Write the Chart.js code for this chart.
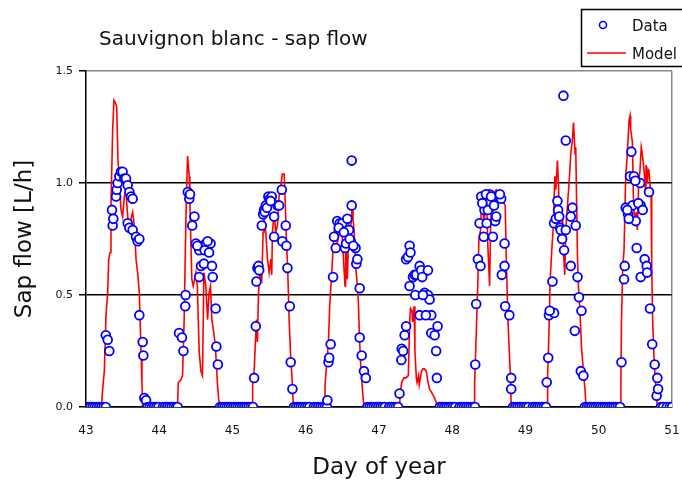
<!DOCTYPE html>
<html>
<head>
<meta charset="utf-8">
<title>Sauvignon blanc - sap flow</title>
<script src="https://cdn.jsdelivr.net/npm/chart.js@4/dist/chart.umd.min.js"></script>
<style>
  body { margin: 0; background: #fff; }
</style>
</head>
<body>
<canvas id="myChart" width="682" height="488"></canvas>
<script>
// values (day of year, sap flow in L/h)
const chartTitle = 'Sauvignon blanc - sap flow';
const xTicks = [43, 44, 45, 46, 47, 48, 49, 50, 51];
const yTicks = [0, 0.5, 1.0, 1.5];

const modelDay = [
  43.0, 43.215, 43.22, 43.25, 43.273, 43.296, 43.31, 43.328, 43.341, 43.364, 43.382, 43.40, 43.419, 43.437, 43.455, 43.478, 43.50, 43.523, 43.546, 43.569, 43.592, 43.637, 43.66, 43.683, 43.705, 43.728, 43.751, 43.764, 43.774,
  44.25, 44.26, 44.295, 44.318, 44.34, 44.364, 44.386, 44.41, 44.418, 44.445, 44.464, 44.50, 44.52, 44.545, 44.568, 44.59, 44.61, 44.636, 44.66, 44.68, 44.70, 44.718, 44.75, 44.77, 44.795, 44.82,
  45.27, 45.275, 45.295, 45.327, 45.34, 45.355, 45.373, 45.40, 45.418, 45.43, 45.455, 45.477, 45.50, 45.523, 45.536, 45.545, 45.568, 45.59, 45.614, 45.636, 45.66, 45.68, 45.705, 45.718, 45.736, 45.755, 45.773, 45.795, 45.818, 45.83,
  46.26, 46.264, 46.28, 46.31, 46.327, 46.355, 46.386, 46.41, 46.43, 46.464, 46.49, 46.51, 46.536, 46.545, 46.568, 46.59, 46.61, 46.636, 46.645, 46.66, 46.68, 46.705, 46.718, 46.736, 46.75, 46.773, 46.795,
  47.28, 47.285, 47.31, 47.34, 47.37, 47.40, 47.42, 47.43, 47.45, 47.46, 47.48, 47.49, 47.51, 47.52, 47.54, 47.55, 47.58, 47.60, 47.62, 47.645, 47.67, 47.69, 47.71, 47.76, 47.80,
  48.30, 48.305, 48.327, 48.35, 48.364, 48.386, 48.405, 48.43, 48.45, 48.468, 48.486, 48.51, 48.523, 48.54, 48.555, 48.577, 48.60, 48.623, 48.645, 48.677, 48.705, 48.723, 48.736, 48.76, 48.78, 48.795, 48.805,
  49.30, 49.302, 49.32, 49.336, 49.355, 49.38, 49.40, 49.414, 49.436, 49.45, 49.464, 49.48, 49.505, 49.518, 49.536, 49.55, 49.573, 49.595, 49.618, 49.64, 49.655, 49.664, 49.677, 49.686, 49.70, 49.71, 49.723, 49.745, 49.764, 49.79, 49.814, 49.827,
  50.30, 50.302, 50.31, 50.327, 50.345, 50.368, 50.39, 50.414, 50.427, 50.436, 50.46, 50.473, 50.49, 50.51, 50.527, 50.545, 50.564, 50.58, 50.595, 50.618, 50.636, 50.645, 50.664, 50.673, 50.686, 50.70, 50.714, 50.723, 50.736, 50.755, 50.777, 50.80,
  51.0
];
const modelFlow = [
  0, 0, 0.05, 0.16, 0.41, 0.51, 0.66, 0.69, 0.90, 1.24, 1.37, 1.36, 1.34, 1.10, 1.02, 0.88, 0.85, 0.94, 0.96, 0.85, 0.81, 0.87, 0.81, 0.66, 0.60, 0.51, 0.25, 0.10, 0,
  0, 0.11, 0.12, 0.14, 0.39, 0.84, 1.12, 1.03, 0.91, 0.57, 0.54, 0.60, 0.54, 0.25, 0.16, 0.14, 0.60, 0.54, 0.39, 0.51, 0.54, 0.39, 0.32, 0.25, 0.10, 0,
  0, 0.10, 0.16, 0.39, 0.29, 0.51, 0.60, 0.57, 0.78, 0.84, 0.78, 0.66, 0.60, 0.66, 0.59, 0.78, 0.87, 0.78, 0.81, 0.94, 0.99, 1.04, 1.04, 0.93, 0.75, 0.60, 0.39, 0.22, 0.10, 0,
  0, 0.10, 0.17, 0.29, 0.45, 0.60, 0.78, 0.82, 0.73, 0.79, 0.81, 0.69, 0.54, 0.76, 0.57, 0.81, 0.78, 0.91, 0.84, 0.79, 0.63, 0.54, 0.47, 0.29, 0.19, 0.08, 0,
  0, 0.05, 0.11, 0.13, 0.13, 0.14, 0.39, 0.44, 0.43, 0.38, 0.45, 0.25, 0.13, 0.11, 0.14, 0.10, 0.16, 0.17, 0.17, 0.16, 0.11, 0.08, 0.07, 0.04, 0,
  0, 0.10, 0.32, 0.56, 0.75, 0.79, 0.96, 0.82, 0.87, 0.94, 0.72, 0.54, 0.79, 0.94, 0.87, 0.96, 0.97, 0.96, 0.94, 0.96, 0.91, 0.90, 0.69, 0.39, 0.24, 0.13, 0,
  0, 0.14, 0.33, 0.56, 0.68, 0.81, 1.03, 0.97, 1.10, 1.00, 0.82, 0.73, 0.85, 0.69, 0.59, 0.79, 0.90, 1.00, 1.13, 1.19, 1.27, 1.22, 1.13, 1.16, 0.87, 0.66, 0.54, 0.42, 0.27, 0.16, 0.07, 0,
  0, 0.10, 0.38, 0.62, 0.70, 1.03, 1.13, 1.28, 1.30, 1.24, 1.18, 0.94, 0.81, 0.87, 0.79, 0.99, 1.06, 1.16, 1.13, 1.06, 0.97, 1.08, 1.00, 1.06, 1.05, 0.99, 0.96, 0.63, 0.39, 0.21, 0.10, 0,
  0
];

const dataDay = [
  43.00, 43.03, 43.06, 43.09, 43.12, 43.15, 43.18, 43.21, 43.24, 43.27,
  43.27, 43.296, 43.318, 43.364, 43.373, 43.355, 43.41, 43.419, 43.432, 43.455, 43.478, 43.50, 43.523, 43.546, 43.569, 43.592, 43.614, 43.637, 43.569, 43.592, 43.637, 43.683, 43.705, 43.728, 43.728, 43.774, 43.783, 43.796, 43.82,
  43.84, 43.87, 43.90, 43.93, 43.96, 43.99, 44.05, 44.08, 44.11, 44.14, 44.17, 44.20, 44.23, 44.25,
  44.27, 44.31, 44.33, 44.36, 44.355, 44.39, 44.41, 44.42, 44.48, 44.45, 44.50, 44.545, 44.59, 44.64, 44.70, 44.57, 44.61, 44.72, 44.545, 44.73, 44.77, 44.78, 44.80, 44.52, 44.62, 44.66, 44.68,
  44.83, 44.86, 44.89, 44.92, 44.95, 44.98, 45.01, 45.04, 45.07, 45.10, 45.13, 45.16, 45.19, 45.22, 45.25, 45.28,
  45.295, 45.318, 45.327, 45.34, 45.355, 45.364, 45.40, 45.418, 45.43, 45.455, 45.49, 45.51, 45.536, 45.568, 45.568, 45.614, 45.636, 45.673, 45.68, 45.727, 45.736, 45.75, 45.782, 45.795, 45.818, 45.44, 45.47, 45.52,
  45.84, 45.87, 45.90, 45.93, 45.96, 45.99, 46.02, 46.05, 46.11, 46.14, 46.17, 46.20, 46.23, 46.26, 46.29,
  46.295, 46.31, 46.32, 46.34, 46.373, 46.386, 46.41, 46.43, 46.464, 46.50, 46.536, 46.568, 46.59, 46.614, 46.627, 46.627, 46.68, 46.69, 46.705, 46.736, 46.736, 46.764, 46.795, 46.82, 46.45, 46.52, 46.55, 46.60, 46.65,
  46.84, 46.87, 46.90, 46.93, 46.96, 46.99, 47.02, 47.05, 47.08, 47.14, 47.17, 47.20, 47.23, 47.26,
  47.28, 47.305, 47.31, 47.33, 47.35, 47.37, 47.37, 47.395, 47.418, 47.418, 47.464, 47.486, 47.51, 47.555, 47.577, 47.668, 47.495, 47.623, 47.668, 47.69, 47.555, 47.714, 47.714, 47.76, 47.80, 47.78, 47.79, 47.43, 47.60, 47.64, 47.59,
  47.83, 47.86, 47.89, 47.92, 47.95, 47.98, 48.01, 48.04, 48.10, 48.13, 48.16, 48.19, 48.22, 48.25, 48.28, 48.31,
  48.314, 48.327, 48.35, 48.386, 48.373, 48.395, 48.44, 48.486, 48.51, 48.586, 48.60, 48.623, 48.668, 48.43, 48.555, 48.714, 48.714, 48.677, 48.723, 48.78, 48.805, 48.805, 48.41, 48.46, 48.53, 48.57, 48.65, 48.47,
  48.83, 48.86, 48.89, 48.92, 48.95, 48.98, 49.01, 49.04, 49.10, 49.13, 49.16, 49.19, 49.22, 49.25, 49.28,
  49.29, 49.31, 49.32, 49.39, 49.368, 49.39, 49.414, 49.436, 49.445, 49.473, 49.48, 49.55, 49.527, 49.618, 49.618, 49.64, 49.686, 49.71, 49.73, 49.764, 49.673, 49.755, 49.79, 49.518, 49.55, 49.33, 49.46, 49.50,
  49.81, 49.84, 49.87, 49.90, 49.93, 49.96, 49.99, 50.02, 50.05, 50.08, 50.11, 50.14, 50.17, 50.20, 50.23, 50.26, 50.29,
  50.31, 50.345, 50.355, 50.368, 50.40, 50.427, 50.445, 50.48, 50.46, 50.505, 50.518, 50.564, 50.573, 50.573, 50.627, 50.655, 50.686, 50.70, 50.73, 50.764, 50.79, 50.80, 50.81, 50.39, 50.41, 50.50, 50.54, 50.60, 50.66,
  50.85, 50.88, 50.93, 50.97, 51.00
];
const dataFlow = [
  0, 0, 0, 0, 0, 0, 0, 0, 0, 0,
  0.32, 0.30, 0.25, 0.81, 0.84, 0.88, 0.94, 0.97, 1.00, 1.03, 1.05, 1.05, 1.02, 1.02, 0.99, 0.96, 0.94, 0.93, 0.82, 0.80, 0.79, 0.76, 0.74, 0.75, 0.41, 0.29, 0.23, 0.04, 0.03,
  0, 0, 0, 0, 0, 0, 0, 0, 0, 0, 0, 0, 0, 0,
  0.33, 0.31, 0.25, 0.50, 0.45, 0.96, 0.93, 0.95, 0.85, 0.81, 0.73, 0.70, 0.72, 0.73, 0.73, 0.63, 0.64, 0.63, 0.58, 0.58, 0.44, 0.27, 0.19, 0.72, 0.70, 0.74, 0.69,
  0, 0, 0, 0, 0, 0, 0, 0, 0, 0, 0, 0, 0, 0, 0, 0,
  0.13, 0.36, 0.56, 0.62, 0.63, 0.61, 0.81, 0.86, 0.88, 0.90, 0.94, 0.93, 0.94, 0.85, 0.76, 0.90, 0.90, 0.97, 0.74, 0.81, 0.72, 0.62, 0.45, 0.20, 0.08, 0.87, 0.89, 0.92,
  0, 0, 0, 0, 0, 0, 0, 0, 0, 0, 0, 0, 0, 0, 0,
  0.03, 0.20, 0.22, 0.28, 0.58, 0.76, 0.71, 0.83, 0.82, 0.82, 0.71, 0.84, 0.79, 0.74, 0.90, 1.10, 0.71, 0.64, 0.66, 0.53, 0.31, 0.23, 0.16, 0.13, 0.80, 0.78, 0.73, 0.75, 0.72,
  0, 0, 0, 0, 0, 0, 0, 0, 0, 0, 0, 0, 0, 0,
  0.06, 0.21, 0.26, 0.25, 0.32, 0.36, 0.66, 0.67, 0.72, 0.54, 0.58, 0.59, 0.59, 0.63, 0.61, 0.61, 0.50, 0.51, 0.50, 0.48, 0.41, 0.41, 0.33, 0.32, 0.36, 0.25, 0.13, 0.69, 0.50, 0.41, 0.58,
  0, 0, 0, 0, 0, 0, 0, 0, 0, 0, 0, 0, 0, 0, 0, 0,
  0.19, 0.46, 0.66, 0.63, 0.82, 0.94, 0.88, 0.88, 0.95, 0.83, 0.85, 0.94, 0.93, 0.76, 0.76, 0.73, 0.63, 0.59, 0.45, 0.41, 0.13, 0.08, 0.91, 0.95, 0.94, 0.90, 0.95, 0.82,
  0, 0, 0, 0, 0, 0, 0, 0, 0, 0, 0, 0, 0, 0, 0,
  0.11, 0.22, 0.41, 0.42, 0.56, 0.82, 0.84, 0.92, 0.88, 0.80, 0.79, 0.79, 0.70, 0.63, 0.85, 0.89, 0.81, 0.58, 0.49, 0.43, 0.34, 0.16, 0.14, 1.39, 1.19, 0.43, 0.85, 0.75,
  0, 0, 0, 0, 0, 0, 0, 0, 0, 0, 0, 0, 0, 0, 0, 0, 0,
  0.20, 0.57, 0.63, 0.89, 0.86, 1.03, 1.14, 1.03, 0.90, 0.83, 0.71, 1.00, 0.90, 0.58, 0.66, 0.63, 0.96, 0.44, 0.28, 0.19, 0.05, 0.13, 0.08, 0.88, 0.84, 1.01, 0.91, 0.88, 0.60,
  0, 0, 0, 0, 0
];

const fontFamily = '"DejaVu Sans", sans-serif';

// title and boxed legend as in the original figure
const overlay = {
  id: 'overlay',
  afterDraw(chart) {
    const c = chart.ctx;
    c.save();
    c.fillStyle = '#111';
    c.textBaseline = 'middle';
    c.textAlign = 'left';
    c.font = '20px ' + fontFamily;
    c.fillText(chartTitle, 99, 40);

    c.strokeStyle = '#000';
    c.lineWidth = 1.5;
    c.strokeRect(581.5, 9.5, 110, 57);

    c.beginPath();
    c.arc(603, 25, 3.5, 0, Math.PI * 2);
    c.strokeStyle = '#0000ff';
    c.lineWidth = 1.6;
    c.stroke();

    c.beginPath();
    c.moveTo(587, 53);
    c.lineTo(626, 53);
    c.strokeStyle = '#ff0000';
    c.lineWidth = 1.5;
    c.stroke();

    c.font = '15px ' + fontFamily;
    c.fillText(chart.data.datasets[0].label, 632, 27);
    c.fillText(chart.data.datasets[1].label, 632, 55);
    c.restore();
  }
};

const ctx = document.getElementById('myChart');

new Chart(ctx, {
  type: 'scatter',
  data: {
    datasets: [{
      label: 'Data',
      data: dataDay.map((d, i) => ({ x: d, y: dataFlow[i] })),
      pointRadius: 4.4,
      pointBorderWidth: 1.8,
      borderColor: '#0000ff',
      pointBackgroundColor: '#ffffff',
      order: 0
    }, {
      label: 'Model',
      data: modelDay.map((d, i) => ({ x: d, y: modelFlow[i] })),
      showLine: true,
      pointRadius: 0,
      borderColor: '#ff0000',
      borderWidth: 1.6,
      order: 1
    }]
  },
  plugins: [overlay],
  options: {
    responsive: false,
    animation: false,
    layout: { padding: { top: 71, right: 10, left: 0, bottom: 0 } },
    plugins: {
      legend: { display: false },
      title: { display: false },
      tooltip: { enabled: false }
    },
    scales: {
      x: {
        type: 'linear',
        min: 43,
        max: 51,
        afterBuildTicks: s => { s.ticks = xTicks.map(v => ({ value: v })); },
        afterFit: s => { s.height = 81; s.paddingLeft = 0; s.paddingRight = 0; },
        ticks: {
          color: '#111',
          font: { family: fontFamily, size: 12 },
          padding: 17,
          maxRotation: 0
        },
        grid: {
          drawTicks: false,
          color: c => (c.tick && c.tick.value === 51 ? '#888' : 'rgba(0,0,0,0)'),
          lineWidth: 1.5
        },
        border: { display: true, color: '#000', width: 1.5 },
        title: {
          display: true,
          text: 'Day of year',
          color: '#111',
          font: { family: fontFamily, size: 23 },
          padding: { top: 0, bottom: 6 }
        }
      },
      y: {
        min: 0,
        max: 1.5,
        afterBuildTicks: s => { s.ticks = yTicks.map(v => ({ value: v })); },
        afterFit: s => { s.width = 86; s.paddingTop = 0; s.paddingBottom = 0; },
        ticks: {
          color: '#111',
          font: { family: fontFamily, size: 11 },
          padding: 6,
          callback: v => v.toFixed(1)
        },
        grid: {
          color: c => (c.tick && c.tick.value === 1.5 ? '#888' : '#000'),
          lineWidth: 1.5,
          tickLength: 7,
          tickColor: '#000'
        },
        border: { display: true, color: '#000', width: 1.5 },
        title: {
          display: true,
          text: 'Sap flow [L/h]',
          color: '#111',
          font: { family: fontFamily, size: 23 },
          padding: { top: 11, bottom: 0 }
        }
      }
    }
  }
});
</script>
</body>
</html>
